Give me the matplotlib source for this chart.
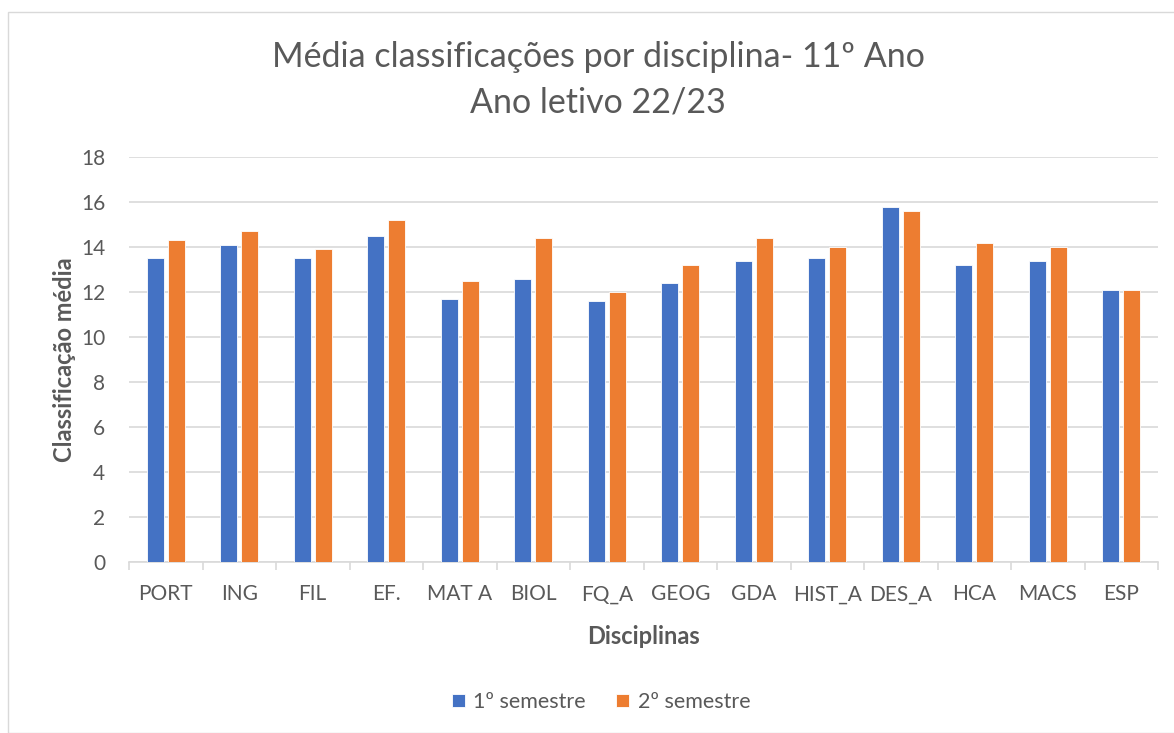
import matplotlib.pyplot as plt
import numpy as np
from matplotlib.patches import Rectangle

plt.rcParams["font.family"] = ["Lato", "DejaVu Sans"]

disciplinas = ["PORT", "ING", "FIL", "EF.", "MAT A", "BIOL", "FQ_A", "GEOG",
               "GDA", "HIST_A", "DES_A", "HCA", "MACS", "ESP"]
sem1 = [13.5, 14.1, 13.5, 14.5, 11.7, 12.6, 11.6, 12.4, 13.4, 13.5, 15.8, 13.2, 13.4, 12.1]
sem2 = [14.3, 14.7, 13.9, 15.2, 12.5, 14.4, 12.0, 13.2, 14.4, 14.0, 15.6, 14.2, 14.0, 12.1]
series_names = ["1º semestre", "2º semestre"]

BLUE = "#4472C4"
ORANGE = "#ED7D31"
TEXT = "#595959"
GRID = "#D9D9D9"

W, H = 1174, 733
fig = plt.figure(figsize=(W / 100, H / 100), dpi=100)

# chart frame
fig.patches.append(Rectangle((8 / W, 0), 1.2, (H - 12) / H, transform=fig.transFigure,
                             fill=False, edgecolor="#D9D9D9", lw=1.0))

ax = fig.add_axes([129 / W, (H - 562) / H, (1158 - 129) / W, (562 - 157) / H])
x = np.arange(len(disciplinas))
bw = 0.225
off = 0.143
ax.bar(x - off, sem1, width=bw, color=BLUE, edgecolor="white", linewidth=0.6,
       label=series_names[0], zorder=3)
ax.bar(x + off, sem2, width=bw, color=ORANGE, edgecolor="white", linewidth=0.6,
       label=series_names[1], zorder=3)

ax.set_xlim(-0.5, len(disciplinas) - 0.5)
ax.set_ylim(0, 18)
ax.set_yticks(np.arange(0, 19, 2))
ax.yaxis.grid(True, color=GRID, lw=1.2, zorder=0)
ax.set_axisbelow(True)
for s in ["top", "right", "left"]:
    ax.spines[s].set_visible(False)
ax.spines["bottom"].set_color(GRID)
ax.spines["bottom"].set_linewidth(1.2)

ax.set_xticks(x)
ax.set_xticklabels(disciplinas)
ax.set_xticks(np.arange(-0.5, len(disciplinas)), minor=True)
ax.tick_params(axis="x", which="major", length=0, pad=16, labelsize=15, labelcolor=TEXT)
ax.tick_params(axis="x", which="minor", length=6, color=GRID, width=1.2)
ax.tick_params(axis="y", length=0, pad=17, labelsize=15, labelcolor=TEXT)

ax.set_xlabel("Disciplinas", fontsize=17, fontweight="bold", color=TEXT, labelpad=15)
ax.set_ylabel("Classificação média", fontsize=17, fontweight="bold", color=TEXT, labelpad=4)

fig.text(598 / W, 1 - 57 / H, "Média classificações por disciplina- 11º Ano",
         ha="center", va="center", fontsize=24.5, color=TEXT)
fig.text(598 / W, 1 - 103 / H, "Ano letivo 22/23",
         ha="center", va="center", fontsize=24.5, color=TEXT)

fig.legend(loc="center", bbox_to_anchor=(601 / W, 1 - 702 / H), ncol=2, frameon=False,
           fontsize=15.5, labelcolor=TEXT, handlelength=0.6, handleheight=0.6,
           handletextpad=0.4, columnspacing=1.4)

fig.savefig("out.png", dpi=100, facecolor="white")
